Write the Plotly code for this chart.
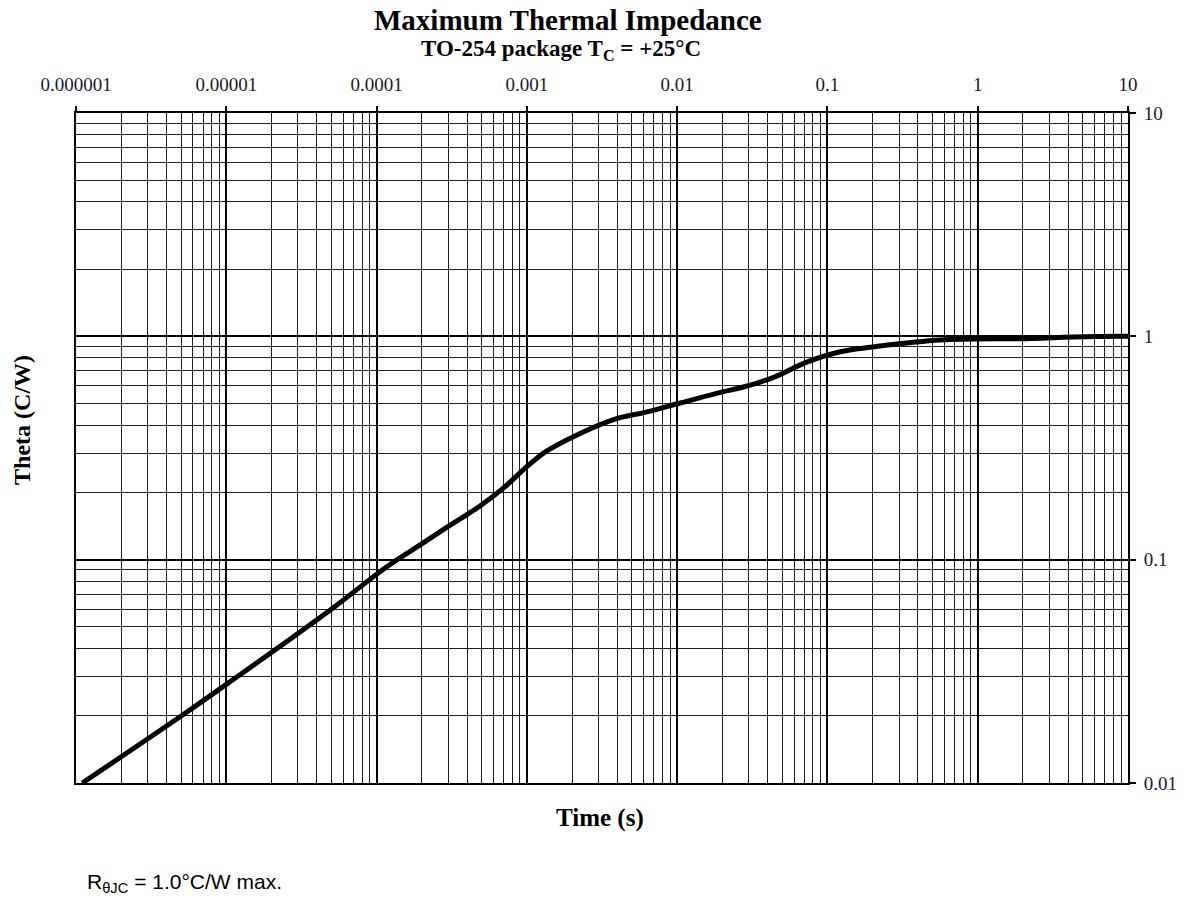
import plotly.graph_objects as go

# Curve (time in s, thermal impedance in C/W)
time_s = [1.1e-6, 5.15e-6, 1.18e-5, 5.13e-5, 1.17e-4, 1.95e-4, 2.93e-4, 4.88e-4,
          6.97e-4, 1.0e-3, 1.35e-3, 2.14e-3, 3.74e-3, 6.3e-3, 1.05e-2, 2.0e-2,
          2.6e-2, 4.3e-2, 7.3e-2, 0.12, 0.2, 0.34, 0.56, 0.93, 2.3, 4.3, 10.0]
theta_cw = [0.01, 0.0202, 0.0299, 0.0608, 0.093, 0.1164, 0.1396, 0.174,
            0.209, 0.261, 0.306, 0.361, 0.423, 0.459, 0.503, 0.564,
            0.587, 0.652, 0.767, 0.851, 0.896, 0.934, 0.964, 0.973, 0.978, 0.994, 1.0]

x_decades = [1e-6, 1e-5, 1e-4, 1e-3, 1e-2, 1e-1, 1, 10]
x_labels = ["0.000001", "0.00001", "0.0001", "0.001", "0.01", "0.1", "1", "10"]
y_decades = [0.01, 0.1, 1, 10]
y_labels = ["0.01", "0.1", "1", "10"]

x_minor = [m * d for d in x_decades[:-1] for m in range(2, 10)]
y_minor = [m * d for d in y_decades[:-1] for m in range(2, 10)]

serif = "Liberation Serif, Times New Roman, serif"

fig = go.Figure()
fig.add_trace(go.Scatter(x=time_s, y=theta_cw, mode="lines",
                         line=dict(color="black", width=5, shape="spline", smoothing=1.2),
                         showlegend=False, hoverinfo="skip"))

# page body has an 8px margin: figure is sized/positioned to compensate
fig.update_layout(
    width=1171, height=891,
    paper_bgcolor="white", plot_bgcolor="white",
    margin=dict(l=68, r=51, t=105, b=116),
    showlegend=False,
)

fig.update_xaxes(
    type="log", range=[-6, 1], side="top", automargin=False,
    tickmode="array", tickvals=x_decades, ticktext=x_labels,
    ticks="outside", ticklen=5, tickwidth=1.5, tickcolor="black",
    ticklabelstandoff=7,
    tickfont=dict(family=serif, size=19, color="#1a1a2a"),
    showgrid=True, gridcolor="black", gridwidth=1.6,
    minor=dict(tickmode="array", tickvals=x_minor, showgrid=True,
               gridcolor="#1e1e1e", gridwidth=1.3, ticks=""),
    showline=True, linecolor="black", linewidth=2, mirror=True,
    zeroline=False,
)
fig.update_yaxes(
    type="log", range=[-2, 1], side="right", automargin=False,
    tickmode="array", tickvals=y_decades, ticktext=y_labels,
    ticks="outside", ticklen=6, tickwidth=1.5, tickcolor="black",
    ticklabelstandoff=4,
    tickfont=dict(family=serif, size=19, color="#1a1a2a"),
    showgrid=True, gridcolor="black", gridwidth=1.6,
    minor=dict(tickmode="array", tickvals=y_minor, showgrid=True,
               gridcolor="#1e1e1e", gridwidth=1.3, ticks=""),
    showline=True, linecolor="black", linewidth=2, mirror=True,
    zeroline=False,
)

annots = [
    dict(text="<b>Maximum Thermal Impedance</b>", x=0.4677, y=(783 - 20) / 670,
         font=dict(family=serif, size=29, color="black")),
    dict(text="<b>TO-254 package T<sub>C</sub> = +25°C</b>", x=0.4610, y=(783 - 50) / 670,
         font=dict(family=serif, size=23, color="black")),
    dict(text="<b>Time (s)</b>", x=0.498, y=-0.052,
         font=dict(family=serif, size=25, color="black")),
    dict(text="<b>Theta (C/W)</b>", x=-0.0513, y=0.542, textangle=-90,
         font=dict(family=serif, size=24, color="black")),
]
for a in annots:
    fig.add_annotation(xref="paper", yref="paper", showarrow=False,
                       xanchor="center", yanchor="middle", **a)

fig.add_annotation(xref="paper", yref="paper", showarrow=False,
                   x=(85 - 76) / 1052, y=(783 - 883) / 670,
                   xanchor="left", yanchor="middle",
                   text="R<sub>θJC</sub> = 1.0°C/W max.",
                   font=dict(family="Liberation Sans, Arial, sans-serif", size=21, color="black"))

fig.write_html("out.html")
